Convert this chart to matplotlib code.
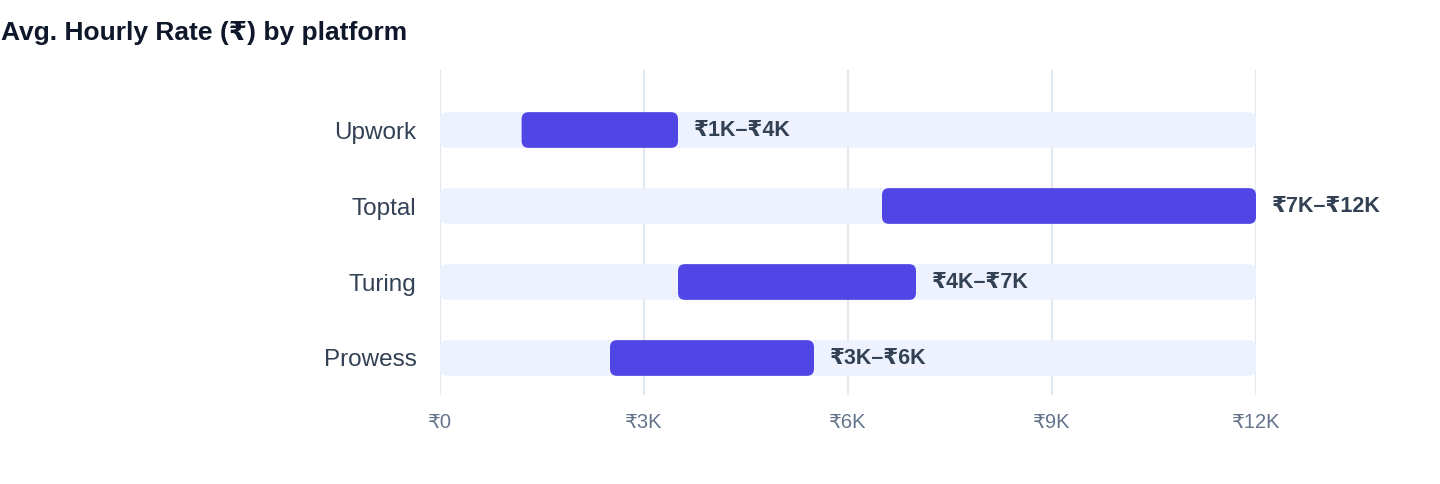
import matplotlib.pyplot as plt
from matplotlib.patches import FancyBboxPatch

plt.rcParams['font.family'] = ['Liberation Sans', 'DejaVu Sans']

# data (thousands of rupees per hour)
platforms = ['Upwork', 'Toptal', 'Turing', 'Prowess']
rate_low = [1.2, 6.5, 3.5, 2.5]
rate_high = [3.5, 12.0, 7.0, 5.5]
range_labels = ['₹1K–₹4K', '₹7K–₹12K', '₹4K–₹7K', '₹3K–₹6K']
x_ticks = [0, 3, 6, 9, 12]
x_tick_labels = ['₹0', '₹3K', '₹6K', '₹9K', '₹12K']

W, H = 1440, 484
fig = plt.figure(figsize=(W / 100, H / 100), dpi=100)
ax = fig.add_axes([440 / W, 1 - 395 / H, 816 / W, 325 / H])

x_max = 12.0
ax.set_xlim(0, x_max)
ax.set_ylim(3 + 37 / 76, -60 / 76)

# rounding of corners: radius in px converted to x units, aspect for y
x_per_px = x_max / 816
y_per_px = 1 / 76
aspect = y_per_px / x_per_px
bar_h = 0.47

for xv in x_ticks:
    ax.axvline(xv, color='#e2e8f0', lw=1.5, zorder=0)

for i, name in enumerate(platforms):
    track = FancyBboxPatch((0, i - bar_h / 2), x_max, bar_h,
                           boxstyle=f'round,pad=0,rounding_size={7 * x_per_px}',
                           mutation_aspect=aspect, fc='#eef2ff', ec='none', zorder=1)
    ax.add_patch(track)
    bar = FancyBboxPatch((rate_low[i], i - bar_h / 2), rate_high[i] - rate_low[i], bar_h,
                         boxstyle=f'round,pad=0,rounding_size={7 * x_per_px}',
                         mutation_aspect=aspect, fc='#4f46e5', ec='none', zorder=2)
    ax.add_patch(bar)
    ax.annotate(range_labels[i], xy=(rate_high[i], i), xytext=(11.5, 0),
                textcoords='offset points', va='center', ha='left',
                fontsize=15.5, fontweight='bold', color='#334155')

ax.set_yticks(range(len(platforms)))
ax.set_yticklabels(platforms, fontsize=17.5, color='#334155')
ax.set_xticks(x_ticks)
ax.set_xticklabels(x_tick_labels, fontsize=14.5, color='#64748b')
ax.tick_params(axis='y', length=0, pad=17)
ax.tick_params(axis='x', length=0, pad=13)
for s in ax.spines.values():
    s.set_visible(False)

fig.text(1 / W, 1 - 40 / H, 'Avg. Hourly Rate (₹) by platform', fontsize=19,
         fontweight='bold', color='#0f172a', ha='left', va='baseline')

fig.savefig('out.png', dpi=100)
